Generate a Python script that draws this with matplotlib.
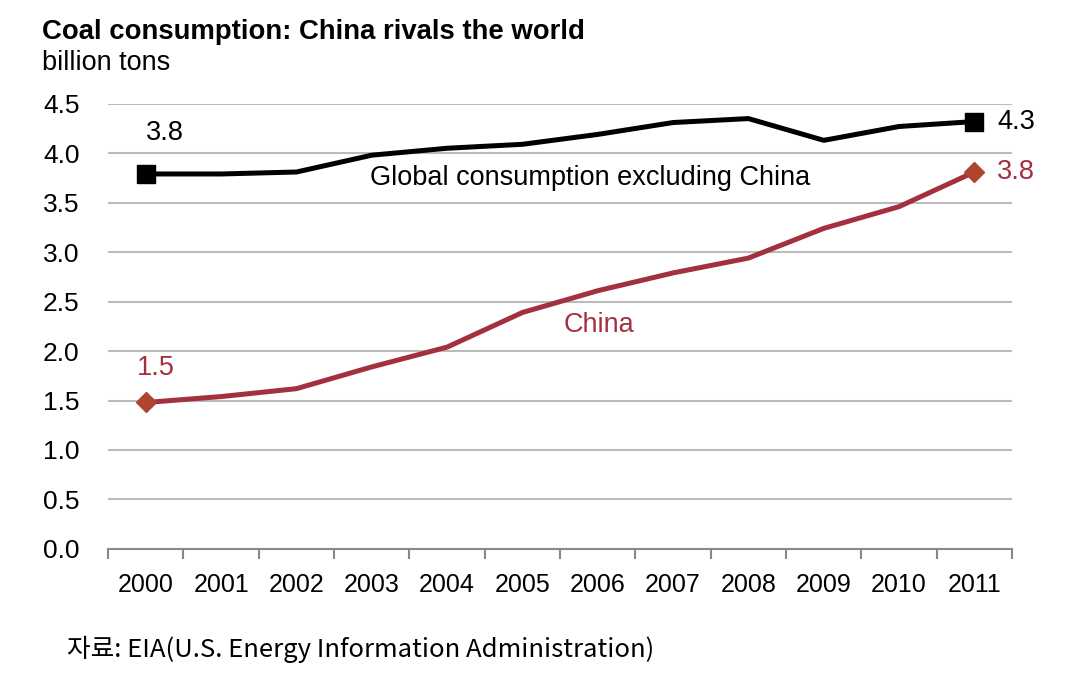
import matplotlib.pyplot as plt
import numpy as np

years = ['2000', '2001', '2002', '2003', '2004', '2005',
         '2006', '2007', '2008', '2009', '2010', '2011']
world_ex_china = [3.79, 3.79, 3.81, 3.98, 4.05, 4.09, 4.19, 4.31, 4.35, 4.13, 4.27, 4.32]
china = [1.48, 1.54, 1.62, 1.84, 2.04, 2.39, 2.61, 2.79, 2.94, 3.24, 3.46, 3.81]
yticks = [0.0, 0.5, 1.0, 1.5, 2.0, 2.5, 3.0, 3.5, 4.0, 4.5]

red = '#a3303f'

plt.rcParams['font.family'] = ['Liberation Sans', 'DejaVu Sans']

fig = plt.figure(figsize=(10.71, 6.87), dpi=100)
ax = fig.add_axes([0.101, 0.201, 0.844, 0.648])

x = np.arange(len(years))
ax.plot(x, world_ex_china, color='black', lw=3.6, zorder=3)
ax.plot(x, china, color=red, lw=3.6, zorder=3)
# end markers
ax.plot([x[0], x[-1]], [world_ex_china[0], world_ex_china[-1]], 's',
        color='black', ms=12.5, zorder=4)
ax.plot([x[0], x[-1]], [china[0], china[-1]], 'D',
        color='#b0452f', ms=10.5, zorder=4)

ax.set_xlim(-0.5, 11.5)
ax.set_ylim(0, 4.5)
ax.set_yticks(yticks)
ax.set_yticklabels(['%.1f' % v for v in yticks], fontsize=19)
ax.set_xticks(x)
ax.set_xticklabels(years, fontsize=18)
ax.set_xticks(np.arange(-0.5, 12, 1), minor=True)
ax.tick_params(axis='x', which='major', length=0, pad=17)
ax.tick_params(axis='x', which='minor', length=7, color='#888888', width=1.5)
ax.tick_params(axis='y', length=0, pad=47)
for lbl in ax.get_yticklabels():
    lbl.set_horizontalalignment('left')

ax.grid(axis='y', color='#bbbbbb', lw=1.5)
ax.set_axisbelow(True)
for s in ['left', 'right', 'top']:
    ax.spines[s].set_visible(False)
ax.spines['bottom'].set_color('#888888')
ax.spines['bottom'].set_linewidth(1.5)

# labels
ax.text(x[0], world_ex_china[0] + 0.41, '3.8', fontsize=19.5, ha='left', va='center')
ax.text(x[-1] + 0.3, world_ex_china[-1], '4.3', fontsize=19.5, ha='left', va='center')
ax.text(x[0] - 0.12, china[0] + 0.35, '1.5', fontsize=19.5, ha='left', va='center', color=red)
ax.text(x[-1] + 0.3, china[-1], '3.8', fontsize=19.5, ha='left', va='center', color=red)
ax.text(5.9, 3.75, 'Global consumption excluding China', fontsize=19.5, ha='center', va='center')
ax.text(6.02, 2.26, 'China', fontsize=19.5, ha='center', va='center', color=red)

fig.text(0.039, 0.953, 'Coal consumption: China rivals the world', fontsize=19.8,
         fontweight='bold', ha='left', va='center')
fig.text(0.039, 0.908, 'billion tons', fontsize=19.5, ha='left', va='center')
fig.text(0.063, 0.055, '자료: EIA(U.S. Energy Information Administration)', fontsize=18.5,
         family=['Noto Sans CJK KR', 'DejaVu Sans'], ha='left', va='center')

fig.savefig('out.png', dpi=100)
